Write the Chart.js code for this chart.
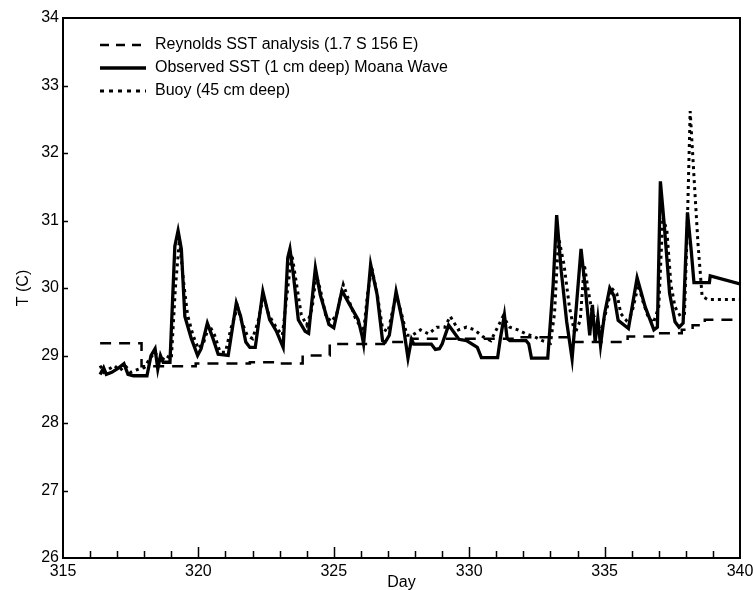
<!DOCTYPE html>
<html>
<head>
<meta charset="utf-8">
<script src="https://cdn.jsdelivr.net/npm/chart.js@4"></script>
<style>
  html, body { margin: 0; padding: 0; background: #fff; }
  #wrap { width: 753px; height: 590px; }
</style>
</head>
<body>
<div id="wrap"><canvas id="sst" width="753" height="590"></canvas></div>
<script>
// values (day of year, temperature in C)
const reynoldsDays = [316.37, 317.9, 318.9, 319.9, 320.9, 321.9, 322.9, 323.85, 324.85, 325.85, 326.85, 327.85, 328.85, 329.85, 330.85, 331.85, 332.85, 333.85, 334.85, 335.85, 336.85, 337.85, 338.25, 338.7, 340];
const reynoldsTemps = [29.18, 28.84, 28.84, 28.88, 28.88, 28.9, 28.88, 29.0, 29.17, 29.17, 29.2, 29.25, 29.25, 29.25, 29.25, 29.27, 29.27, 29.2, 29.2, 29.28, 29.33, 29.38, 29.45, 29.53, 29.53];

const observedDays = [316.37, 316.5, 316.6, 316.8, 317.0, 317.25, 317.4, 317.6, 318.1, 318.25, 318.4, 318.5, 318.6, 318.7, 318.95,
  319.13, 319.25, 319.37, 319.5, 319.74, 319.97, 320.1, 320.33, 320.54, 320.73, 321.1, 321.4, 321.56, 321.75, 321.9, 322.1,
  322.38, 322.63, 322.88, 323.13, 323.3, 323.38, 323.5, 323.69, 323.94, 324.07, 324.32, 324.5, 324.82, 325.0, 325.3, 325.55,
  325.9, 326.04, 326.1, 326.36, 326.6, 326.8, 326.9, 327.05, 327.3, 327.55, 327.74, 327.87, 327.95, 328.6, 328.75, 328.9,
  329.0, 329.24, 329.62, 329.9, 330.3, 330.45, 331.05, 331.15, 331.3, 331.4, 331.5, 332.1, 332.2, 332.3, 332.9, 333.1,
  333.23, 333.4, 333.6, 333.8, 334.13, 334.3, 334.45, 334.55, 334.65, 334.75, 334.85, 335.0, 335.19, 335.35, 335.5, 335.88,
  336.2, 336.5, 336.82, 336.95, 337.06, 337.2, 337.4, 337.6, 337.75, 337.9, 338.06, 338.2, 338.3, 338.87, 338.9, 340];
const observedTemps = [28.72, 28.82, 28.72, 28.75, 28.8, 28.88, 28.72, 28.7, 28.7, 29.0, 29.1, 28.8, 29.0, 28.9, 28.9,
  30.62, 30.85, 30.58, 29.58, 29.25, 29.0, 29.1, 29.48, 29.25, 29.02, 29.0, 29.78, 29.58, 29.2, 29.12, 29.12,
  29.95, 29.53, 29.36, 29.12, 30.45, 30.58, 30.22, 29.53, 29.36, 29.33, 30.3, 29.9, 29.46, 29.41, 29.96, 29.78,
  29.53, 29.3, 29.17, 30.35, 29.9, 29.22, 29.2, 29.3, 29.95, 29.48, 28.96, 29.24, 29.17, 29.17, 29.09, 29.1,
  29.17, 29.45, 29.24, 29.22, 29.12, 28.97, 28.97, 29.25, 29.6, 29.25, 29.22, 29.22, 29.17, 28.96, 28.96, 30.05,
  31.08, 30.25, 29.5, 28.95, 30.58, 29.95, 29.3, 29.75, 29.2, 29.55, 29.15, 29.62, 30.0, 29.88, 29.52, 29.4,
  30.15, 29.72, 29.38, 29.42, 31.58, 30.95, 29.92, 29.5, 29.42, 29.48, 31.12, 30.55, 30.08, 30.08, 30.18, 30.06];

const buoyDays = [316.37, 316.5, 316.7, 316.9, 317.1, 317.3, 317.5, 317.8, 318.0, 318.2, 318.4, 318.6, 318.8, 319.0,
  319.15, 319.3, 319.45, 319.6, 319.8, 320.0, 320.2, 320.4, 320.6, 320.8, 321.0, 321.2, 321.45, 321.6, 321.8, 322.0,
  322.2, 322.4, 322.6, 322.9, 323.1, 323.3, 323.45, 323.6, 323.8, 324.0, 324.2, 324.35, 324.5, 324.7, 324.9, 325.1,
  325.35, 325.5, 325.8, 326.1, 326.25, 326.4, 326.6, 326.8, 327.0, 327.3, 327.5, 327.7, 327.9, 328.2, 328.5, 328.8,
  329.1, 329.3, 329.6, 329.9, 330.2, 330.5, 330.8, 331.0, 331.25, 331.5, 331.8, 332.1, 332.4, 332.7, 333.0, 333.15,
  333.3, 333.5, 333.7, 333.9, 334.1, 334.25, 334.4, 334.55, 334.7, 334.9, 335.1, 335.25, 335.45, 335.6, 335.8, 336.0,
  336.25, 336.4, 336.6, 336.8, 337.0, 337.15, 337.3, 337.45, 337.6, 337.8, 337.95, 338.05, 338.16, 338.3, 338.45, 338.6,
  338.8, 340];
const buoyTemps = [28.85, 28.75, 28.8, 28.85, 28.78, 28.85, 28.75, 28.8, 28.82, 28.95, 29.05, 28.9, 29.0, 28.95,
  30.0, 30.72, 30.1, 29.6, 29.3, 29.1, 29.2, 29.45, 29.3, 29.05, 29.05, 29.4, 29.72, 29.5, 29.3, 29.25,
  29.5, 29.88, 29.6, 29.4, 29.3, 30.0, 30.5, 30.12, 29.6, 29.45, 29.7, 30.2, 29.98, 29.6, 29.5, 29.6,
  30.05, 29.88, 29.55, 29.35, 29.92, 30.3, 29.92, 29.4, 29.35, 29.9, 29.62, 29.3, 29.3, 29.38, 29.32, 29.42,
  29.42, 29.58, 29.38, 29.42, 29.38, 29.28, 29.22, 29.38, 29.58, 29.42, 29.38, 29.32, 29.28, 29.22, 29.18, 29.62,
  30.75, 30.35, 29.72, 29.32, 29.52, 30.35, 29.95, 29.62, 29.52, 29.42, 29.72, 30.0, 29.92, 29.62, 29.52, 29.62,
  30.05, 29.82, 29.58, 29.48, 29.72, 31.05, 30.85, 30.05, 29.72, 29.58, 29.62, 30.85, 32.62, 31.65, 30.65, 29.88,
  29.83, 29.83];

const xRange = [315, 340];
const yRange = [26, 34];

const toPoints = (xs, ys) => xs.map((d, i) => ({ x: d, y: ys[i] }));
const FONT = '"Liberation Sans", Arial, Helvetica, sans-serif';

// tick marks pointing into the plot, plus the closed frame
const innerTicks = {
  id: 'innerTicks',
  afterDatasetsDraw(chart) {
    const { ctx, chartArea: a, scales: { x, y } } = chart;
    ctx.save();
    ctx.strokeStyle = '#000';
    ctx.lineWidth = 1.5;
    ctx.beginPath();
    for (let d = x.min + 1; d < x.max; d++) {
      const px = Math.round(x.getPixelForValue(d)) + 0.5;
      const len = d % 5 === 0 ? 11 : 7;
      ctx.moveTo(px, a.bottom);
      ctx.lineTo(px, a.bottom - len);
    }
    for (let t = y.min + 1; t < y.max; t++) {
      const py = Math.round(y.getPixelForValue(t)) + 0.5;
      ctx.moveTo(a.left, py);
      ctx.lineTo(a.left + 5, py);
    }
    ctx.stroke();
    ctx.lineWidth = 2;
    ctx.strokeRect(a.left, a.top, a.right - a.left, a.bottom - a.top);
    ctx.restore();
  }
};

// legend drawn inside the upper left of the plot
const innerLegend = {
  id: 'innerLegend',
  afterDraw(chart) {
    const { ctx, chartArea: a } = chart;
    ctx.save();
    ctx.font = '16px ' + FONT;
    ctx.textBaseline = 'middle';
    ctx.fillStyle = '#000';
    chart.data.datasets.forEach((ds, i) => {
      const y0 = a.top + 27 + i * 23;
      ctx.beginPath();
      ctx.setLineDash(ds.legendDash);
      ctx.lineWidth = ds.borderWidth;
      ctx.strokeStyle = '#000';
      ctx.moveTo(a.left + 37, y0);
      ctx.lineTo(a.left + 83, y0);
      ctx.stroke();
      ctx.setLineDash([]);
      ctx.fillText(ds.label, a.left + 92, y0);
    });
    ctx.restore();
  }
};

new Chart(document.getElementById('sst'), {
  type: 'line',
  data: {
    datasets: [
      {
        label: 'Reynolds SST analysis (1.7 S 156 E)',
        data: toPoints(reynoldsDays, reynoldsTemps),
        stepped: true,
        borderColor: '#000',
        borderWidth: 2.5,
        borderDash: [11, 8],
        legendDash: [9, 7],
        pointRadius: 0
      },
      {
        label: 'Observed SST (1 cm deep) Moana Wave',
        data: toPoints(observedDays, observedTemps),
        borderColor: '#000',
        borderWidth: 3.3,
        borderDash: [],
        legendDash: [],
        pointRadius: 0
      },
      {
        label: 'Buoy (45 cm deep)',
        data: toPoints(buoyDays, buoyTemps),
        borderColor: '#000',
        borderWidth: 3,
        borderDash: [3, 4],
        legendDash: [4, 5],
        pointRadius: 0
      }
    ]
  },
  options: {
    responsive: false,
    animation: false,
    devicePixelRatio: 1,
    layout: { autoPadding: false, padding: { top: 18, right: 13, left: 0, bottom: 0 } },
    plugins: { legend: { display: false }, tooltip: { enabled: false } },
    scales: {
      x: {
        type: 'linear',
        min: xRange[0],
        max: xRange[1],
        afterFit: (s) => { s.height = 32; s.paddingLeft = 0; s.paddingRight = 0; },
        grid: { display: false, drawTicks: false },
        border: { display: false },
        ticks: { stepSize: 5, padding: 4, color: '#000', font: { family: FONT, size: 16 }, maxRotation: 0 },
        title: { display: true, text: 'Day', color: '#000', font: { family: FONT, size: 16, lineHeight: 0.9 }, padding: { top: 0, bottom: 0 } }
      },
      y: {
        type: 'linear',
        min: yRange[0],
        max: yRange[1],
        afterFit: (s) => { s.width = 63; s.paddingTop = 0; s.paddingBottom = 0; },
        grid: { display: false, drawTicks: false },
        border: { display: false },
        ticks: { stepSize: 1, padding: 4, color: '#000', font: { family: FONT, size: 16 } },
        title: { display: true, text: 'T (C)', color: '#000', font: { family: FONT, size: 16 }, padding: { top: 14, bottom: 0 } }
      }
    }
  },
  plugins: [innerTicks, innerLegend]
});
</script>
</body>
</html>
